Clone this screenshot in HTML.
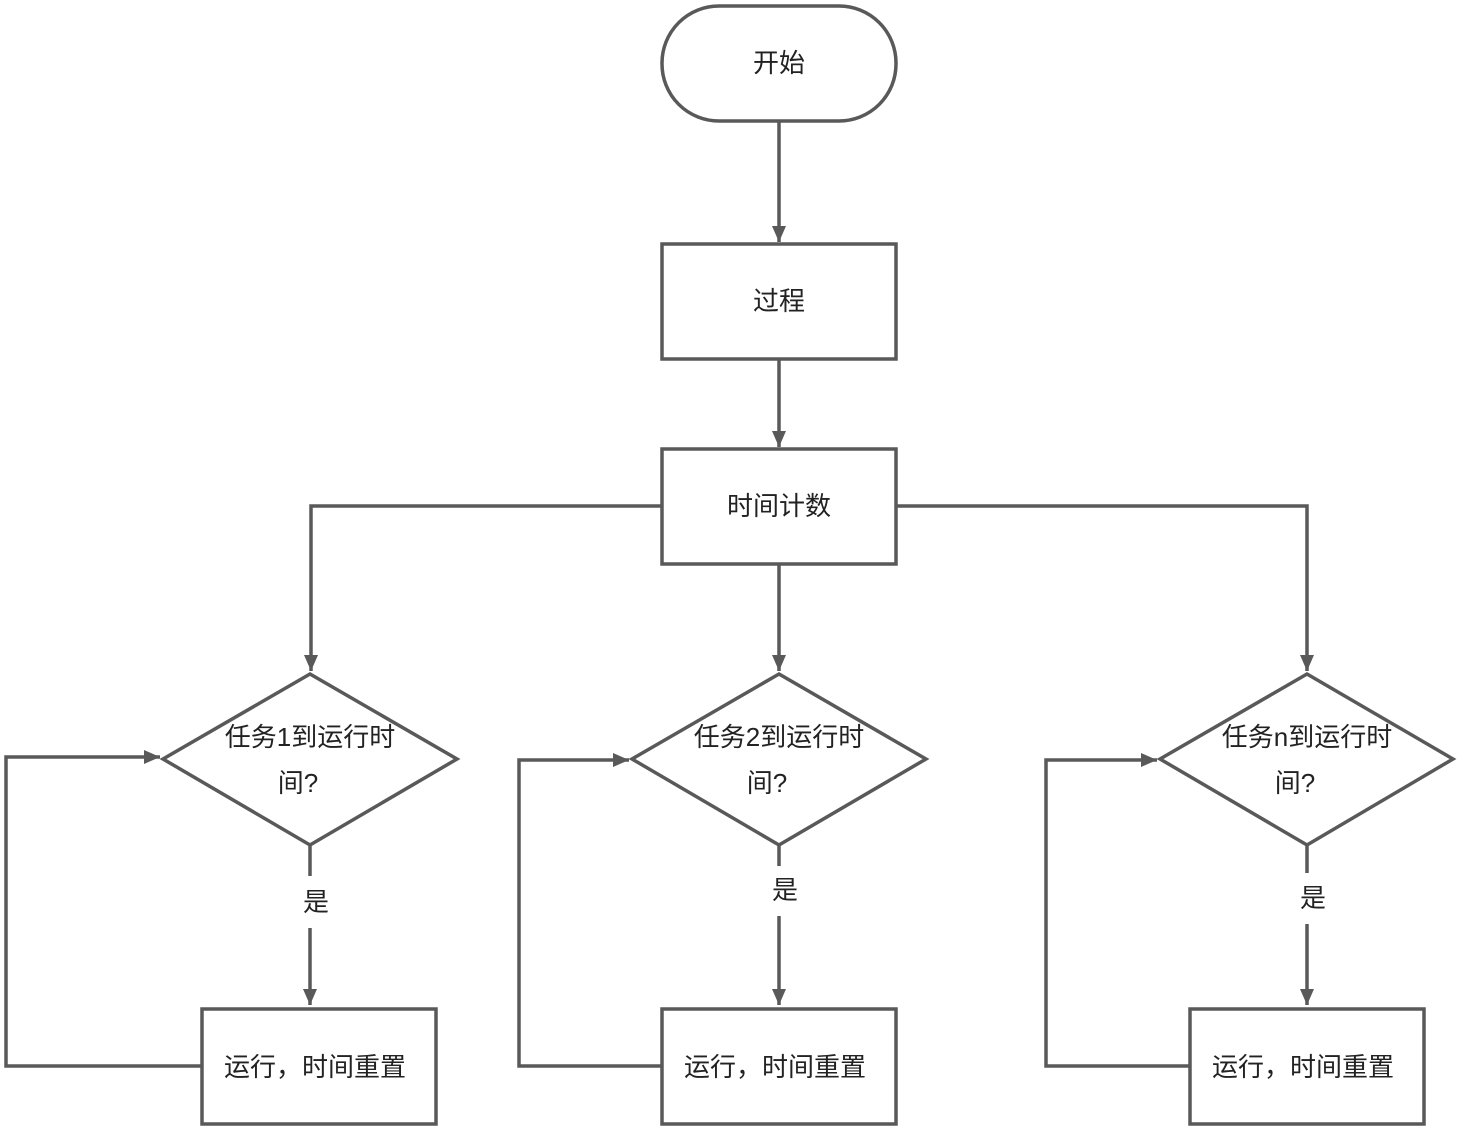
<!DOCTYPE html>
<html><head><meta charset="utf-8"><style>
body{margin:0;background:#fff}
svg text{font-family:"Liberation Sans","Noto Sans CJK SC",sans-serif;font-size:26px;fill:#222;text-anchor:middle;dominant-baseline:central}
</style></head><body>
<svg width="1462" height="1130" viewBox="0 0 1462 1130" xmlns="http://www.w3.org/2000/svg">
<defs><marker id="a" markerWidth="8" markerHeight="8" refX="7" refY="4" orient="auto" markerUnits="userSpaceOnUse" viewBox="0 0 8 8"><path d="M0,0 L8,4 L0,8z" fill="#595959"/></marker>
<marker id="b" markerWidth="16" markerHeight="28" refX="16" refY="10" orient="auto" markerUnits="userSpaceOnUse" viewBox="0 0 16 20"><path d="M0,3 L16,10 L0,17z" fill="#595959"/></marker></defs>
<g fill="none" stroke="#595959" stroke-width="3.5">
<rect x="662" y="6" width="234" height="115" rx="57"/>
<rect x="662" y="244" width="234" height="115"/>
<rect x="662" y="449" width="234" height="115"/>
<polygon points="310,674 457,759 310,845 163,759"/>
<polygon points="779,674 926,759 779,845 632,759"/>
<polygon points="1307,674 1453,759 1307,845 1160,759"/>
<rect x="202" y="1009" width="234" height="115"/>
<rect x="662" y="1009" width="234" height="115"/>
<rect x="1190" y="1009" width="234" height="115"/>
<g marker-end="url(#b)">
<path d="M779,121 V242"/>
<path d="M779,359 V447"/>
<path d="M662,506 H311 V671"/>
<path d="M779,564 V671"/>
<path d="M896,506 H1307 V671"/>
<path d="M310,928 V1005"/>
<path d="M779,916 V1005"/>
<path d="M1307,924 V1005"/>
<path d="M202,1066 H6 V757 H160"/>
<path d="M662,1066 H519 V760 H629"/>
<path d="M1190,1066 H1046 V760 H1157"/>
</g>
<path d="M310,845 V876"/>
<path d="M779,845 V866"/>
<path d="M1307,845 V873"/>
</g>
<text x="779" y="63">开始</text>
<text x="779" y="301">过程</text>
<text x="779" y="506">时间计数</text>
<text x="310" y="737">任务1到运行时</text>
<text x="298" y="783">间?</text>
<text x="779" y="737">任务2到运行时</text>
<text x="767" y="783">间?</text>
<text x="1307" y="737">任务n到运行时</text>
<text x="1295" y="783">间?</text>
<text x="316" y="902">是</text>
<text x="785" y="890">是</text>
<text x="1313" y="898">是</text>
<text x="315" y="1067">运行，时间重置</text>
<text x="775" y="1067">运行，时间重置</text>
<text x="1303" y="1067">运行，时间重置</text>
</svg>
</body></html>
